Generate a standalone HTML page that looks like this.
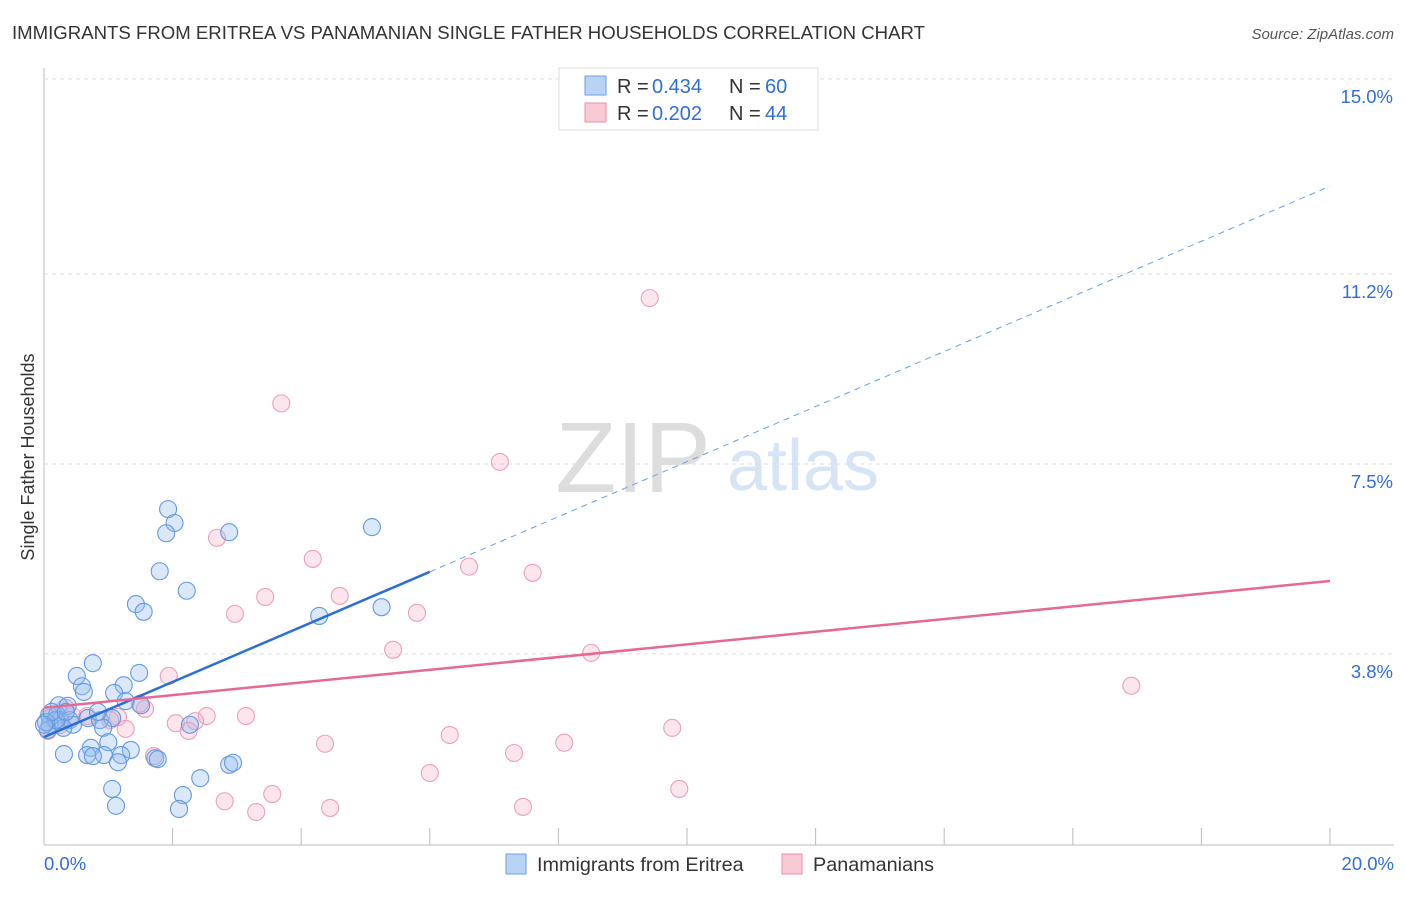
<!DOCTYPE html>
<html><head><meta charset="utf-8"><style>
body{margin:0;background:#fff;font-family:"Liberation Sans",sans-serif;}
svg text{font-family:"Liberation Sans",sans-serif;}
</style></head><body>
<svg id="c" width="1406" height="892">
<text x="12" y="39" font-size="18.6" fill="#333">IMMIGRANTS FROM ERITREA VS PANAMANIAN SINGLE FATHER HOUSEHOLDS CORRELATION CHART</text>
<text x="1394" y="39" font-size="15" fill="#555" font-style="italic" text-anchor="end">Source: ZipAtlas.com</text>
<text x="0" y="0" transform="translate(34,457) rotate(-90)" font-size="18" fill="#333" text-anchor="middle">Single Father Households</text>
<text x="633" y="492" font-size="100" fill="#ddd" font-family="Liberation Serif" text-anchor="middle">ZIP</text>
<text x="803" y="490" font-size="72" fill="#d6e4f5" text-anchor="middle">atlas</text>
<g id="grid"></g><g id="pts"></g><g id="lines"></g>
<g>
<rect x="559" y="68" width="259" height="62" fill="#fff" stroke="#ddd"/>
<rect x="585" y="76" width="21" height="19" fill="#b9d3f4" stroke="#6a9fe0"/>
<rect x="585" y="103" width="21" height="19" fill="#f9c9d6" stroke="#eb8fab"/>
<text x="617" y="93" font-size="20" fill="#333">R =</text>
<text x="652" y="93" font-size="20" fill="#2f6fd6">0.434</text>
<text x="729" y="93" font-size="20" fill="#333">N =</text>
<text x="765" y="93" font-size="20" fill="#2f6fd6">60</text>
<text x="617" y="120" font-size="20" fill="#333">R =</text>
<text x="652" y="120" font-size="20" fill="#2f6fd6">0.202</text>
<text x="729" y="120" font-size="20" fill="#333">N =</text>
<text x="765" y="120" font-size="20" fill="#2f6fd6">44</text>
</g>
<g>
<rect x="506" y="854" width="20" height="20" fill="#b9d3f4" stroke="#6a9fe0"/>
<text x="537" y="871" font-size="19.8" fill="#333">Immigrants from Eritrea</text>
<rect x="782" y="854" width="20" height="20" fill="#f9c9d6" stroke="#eb8fab"/>
<text x="813" y="871" font-size="19.8" fill="#333">Panamanians</text>
</g>
</svg>
<script>
const yTicks=[15,11.2,7.5,3.8];
const yTickLabels=["15.0%","11.2%","7.5%","3.8%"];
const xTickLabels=["0.0%","20.0%"];
const blueX=[1.93,2.03,1.9,2.88,5.1,1.8,2.22,1.43,1.55,5.25,4.28,0.76,0.51,1.48,0.59,0.62,1.24,1.09,1.27,0.23,0.37,0.08,0.2,0.17,0.09,0.06,0.25,0.40,0.45,0.68,0.87,1.06,0.92,0.3,1.0,0.73,1.35,1.2,0.67,0.93,0.76,1.15,1.73,1.77,2.27,2.43,2.88,2.94,1.06,2.16,1.12,2.1,0.31,0.19,0.03,0.12,0.34,1.51,0.0,0.84];
const blueY=[6.62,6.35,6.15,6.17,6.27,5.41,5.03,4.77,4.62,4.71,4.54,3.62,3.37,3.43,3.17,3.06,3.19,3.04,2.88,2.80,2.79,2.61,2.61,2.51,2.42,2.32,2.51,2.51,2.42,2.55,2.51,2.55,2.36,2.36,2.08,1.97,1.93,1.83,1.83,1.83,1.81,1.69,1.77,1.75,2.42,1.38,1.64,1.68,1.17,1.05,0.84,0.78,1.85,2.51,2.47,2.67,2.67,2.80,2.42,2.67];
const pinkX=[9.42,3.69,7.09,2.69,4.18,6.61,7.6,3.44,4.6,2.97,5.8,5.43,8.51,16.91,1.94,1.57,1.49,2.53,3.14,2.05,2.35,2.25,1.27,1.15,6.31,9.77,4.37,8.09,7.31,1.71,6.0,3.55,9.88,2.81,4.45,7.45,3.3,0.09,0.25,0.06,0.44,0.67,1.03,0.33];
const pinkY=[10.73,8.68,7.54,6.06,5.65,5.5,5.38,4.91,4.93,4.58,4.6,3.88,3.82,3.18,3.37,2.73,2.83,2.59,2.59,2.45,2.49,2.3,2.34,2.57,2.22,2.36,2.05,2.07,1.87,1.81,1.48,1.07,1.17,0.93,0.8,0.82,0.72,2.55,2.41,2.3,2.59,2.59,2.51,2.75];
const blueTrend=[2.18,12.91], pinkTrend=[2.75,5.22];
const NS="http://www.w3.org/2000/svg";
const X=v=>44+v/20*1286, Y=v=>849-v*51.34;
function mk(t,a,p){const e=document.createElementNS(NS,t);for(const k in a)e.setAttribute(k,a[k]);p.appendChild(e);return e;}
const g=document.getElementById('grid');
mk('line',{x1:44,y1:68,x2:44,y2:845,stroke:'#bbb'},g);
mk('line',{x1:44,y1:845,x2:1394,y2:845,stroke:'#bbb'},g);
yTicks.forEach((v,i)=>{
 const l=mk('line',{x1:44,y1:Y(v),x2:1394,y2:Y(v),stroke:'#ddd','stroke-dasharray':'4,4'},g);
 
 
 const t=mk('text',{x:1393,y:Y(v)+24,'font-size':18.5,fill:'#2f6fd6','text-anchor':'end'},g);t.textContent=yTickLabels[i];
 
 
});
for(let i=1;i<=10;i++){mk('line',{x1:X(i*2),y1:828,x2:X(i*2),y2:845,stroke:'#bbb'},g);}
[[0,'start',44],[1,'end',1394]].forEach(([i,a,x])=>{const t=mk('text',{x:x,y:870,'font-size':18.5,fill:'#2f6fd6','text-anchor':a},g);t.textContent=xTickLabels[i];
 
 });
const p=document.getElementById('pts');
pinkX.forEach((v,i)=>{const c=mk('circle',{cx:X(v),cy:Y(pinkY[i]),r:8.5,fill:'rgba(246,170,192,0.3)',stroke:'#eba0b8','stroke-width':1.1},p);
 
 });
blueX.forEach((v,i)=>{const c=mk('circle',{cx:X(v),cy:Y(blueY[i]),r:8.5,fill:'rgba(150,190,240,0.35)',stroke:'#6399e0','stroke-width':1.1},p);
 
 });
const L=document.getElementById('lines');
const by=x=>blueTrend[0]+(blueTrend[1]-blueTrend[0])*x/20;
let a=mk('line',{x1:X(0),y1:Y(by(0)),x2:X(6),y2:Y(by(6)),stroke:'#2a6fd8','stroke-width':2.5},L);


a=mk('line',{x1:X(6),y1:Y(by(6)),x2:X(20),y2:Y(by(20)),stroke:'#6d9ee0','stroke-width':1,'stroke-dasharray':'6,5'},L);


a=mk('line',{x1:X(0),y1:Y(pinkTrend[0]),x2:X(20),y2:Y(pinkTrend[1]),stroke:'#e46a94','stroke-width':2.5},L);


</script>
</body></html>
